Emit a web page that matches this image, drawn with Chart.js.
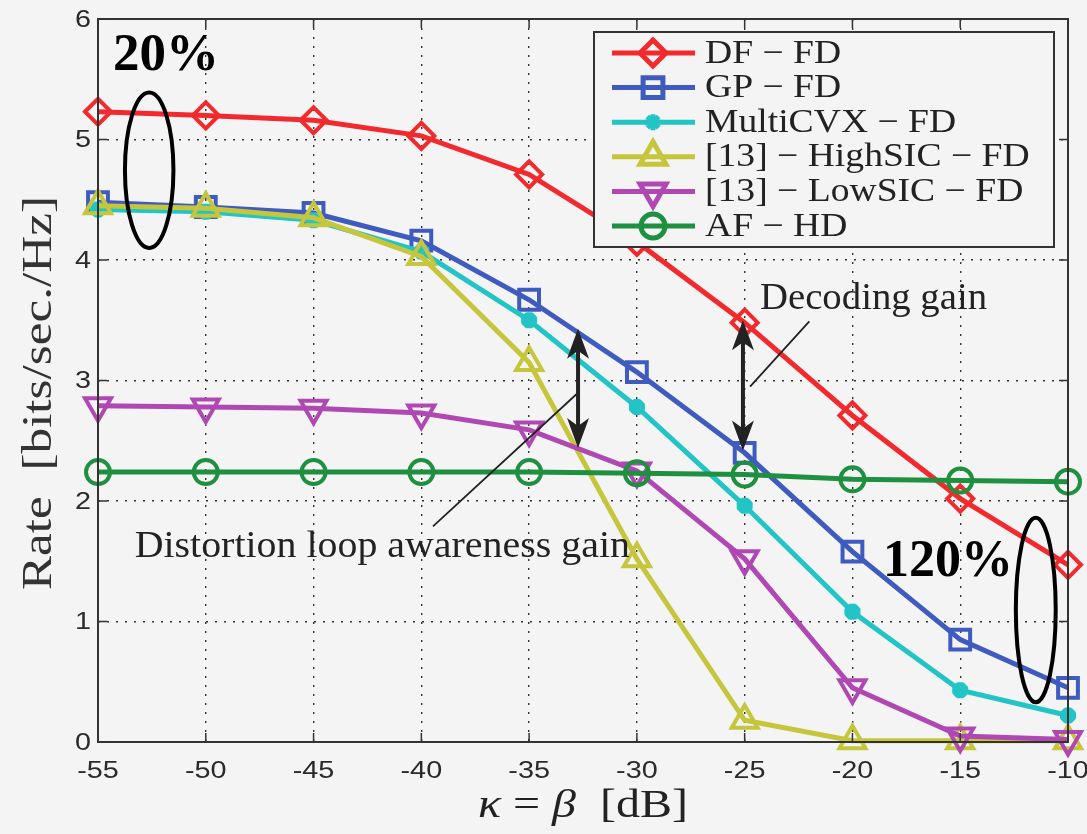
<!DOCTYPE html>
<html>
<head>
<meta charset="utf-8">
<title>Rate vs kappa</title>
<script src="https://cdn.jsdelivr.net/npm/chart.js/dist/chart.umd.min.js"></script>
<style>
  html, body { margin: 0; padding: 0; background: #f4f4f4; }
  #wrap { width: 1087px; height: 834px; }
</style>
</head>
<body>
<div id="wrap"><canvas id="myChart"></canvas></div>
<script>
// x axis: kappa = beta [dB]
const kappa = [-55, -50, -45, -40, -35, -30, -25, -20, -15, -10];

// rates [bits/sec./Hz]
const dfFd      = [5.23, 5.20, 5.16, 5.03, 4.71, 4.15, 3.48, 2.71, 2.02, 1.47];
const gpFd      = [4.48, 4.44, 4.39, 4.16, 3.67, 3.07, 2.40, 1.58, 0.85, 0.45];
const multiCvx  = [4.42, 4.40, 4.33, 4.07, 3.50, 2.78, 1.96, 1.08, 0.43, 0.22];
const highSic   = [4.45, 4.43, 4.35, 4.03, 3.15, 1.52, 0.18, 0.01, 0.01, 0.01];
const lowSic    = [2.79, 2.78, 2.77, 2.73, 2.59, 2.25, 1.52, 0.45, 0.05, 0.02];
const afHd      = [2.24, 2.24, 2.24, 2.24, 2.24, 2.23, 2.22, 2.18, 2.17, 2.16];

const seriesNames  = ['DF \u2212 FD', 'GP \u2212 FD', 'MultiCVX \u2212 FD',
                      '[13] \u2212 HighSIC \u2212 FD', '[13] \u2212 LowSIC \u2212 FD', 'AF \u2212 HD'];
const seriesColors = ['#f22a2e', '#3f5bbf', '#22c4c6', '#c5c63c', '#b048b4', '#1f8f40'];
const seriesMarks  = ['rectRot', 'rect', 'star', 'triangle', 'triangle', 'circle'];
const seriesRot    = [0, 0, 0, 0, 180, 0];
const seriesRadius = [13, 14, 8, 15, 15, 12];
const seriesData   = [dfFd, gpFd, multiCvx, highSic, lowSic, afHd];

const BG = '#f4f4f4';

function makeDataset(i) {
    return {
        label: seriesNames[i],
        data: kappa.map((k, j) => ({ x: k, y: seriesData[i][j] })),
        borderColor: seriesColors[i],
        backgroundColor: 'rgba(0,0,0,0)',
        pointBorderColor: seriesColors[i],
        pointBackgroundColor: seriesMarks[i] === 'star' ? seriesColors[i] : 'rgba(0,0,0,0)',
        pointStyle: seriesMarks[i],
        pointRotation: seriesRot[i],
        pointRadius: seriesRadius[i],
        pointBorderWidth: seriesMarks[i] === 'star' ? 6 : 4,
        borderWidth: 5,
        tension: 0,
        clip: false,
        order: seriesData.length - i   // later series on top, like matlab
    };
}

// text stretched horizontally to mimic the wide LaTeX fonts
function wideText(ctx, txt, x, y, sx, align) {
    ctx.save();
    ctx.translate(x, y);
    ctx.scale(sx, 1);
    ctx.textAlign = align;
    ctx.fillText(txt, 0, 0);
    ctx.restore();
}

// draw everything that is not data: box, ticks, titles, legend, notes
const extras = {
    id: 'extras',
    afterDraw(chart) {
        const ctx = chart.ctx;
        const a = chart.chartArea;
        const xs = chart.scales.x, ys = chart.scales.y;
        const px = v => xs.getPixelForValue(v);
        const py = v => ys.getPixelForValue(v);

        ctx.save();
        // axes box
        ctx.strokeStyle = '#333';
        ctx.lineWidth = 2;
        ctx.strokeRect(a.left, a.top, a.right - a.left, a.bottom - a.top);
        // inner tick marks + tick labels
        ctx.lineWidth = 1.5;
        ctx.fillStyle = '#2a2a2a';
        ctx.font = '24px "Liberation Sans"';
        ctx.textBaseline = 'middle';
        xs.ticks.forEach(t => {
            const x = px(t.value);
            ctx.beginPath();
            ctx.moveTo(x, a.bottom); ctx.lineTo(x, a.bottom - 9);
            ctx.moveTo(x, a.top); ctx.lineTo(x, a.top + 9);
            ctx.stroke();
            wideText(ctx, String(t.value), x, a.bottom + 29, 1.2, 'center');
        });
        ys.ticks.forEach(t => {
            const y = py(t.value);
            ctx.beginPath();
            ctx.moveTo(a.left, y); ctx.lineTo(a.left + 9, y);
            ctx.moveTo(a.right, y); ctx.lineTo(a.right - 9, y);
            ctx.stroke();
            wideText(ctx, String(t.value), a.left - 7, y + 1, 1.2, 'right');
        });

        // y axis title
        ctx.fillStyle = '#333';
        ctx.font = '42px "Liberation Serif"';
        ctx.save();
        ctx.translate(40, 393);
        ctx.rotate(-Math.PI / 2);
        wideText(ctx, 'Rate  [bits/sec./Hz]', 0, 0, 1.22, 'center');
        ctx.restore();

        // x axis title with italic greek letters
        ctx.fillStyle = '#222';
        const sx = 1.2;
        const parts = [['italic 40px "Liberation Serif"', '\u03ba'], ['40px "Liberation Serif"', ' = '],
                       ['italic 40px "Liberation Serif"', '\u03b2'], ['40px "Liberation Serif"', '  [dB]']];
        let total = 0;
        parts.forEach(p => { ctx.font = p[0]; total += ctx.measureText(p[1]).width * sx; });
        let cx = 583 - total / 2;
        parts.forEach(p => {
            ctx.font = p[0];
            wideText(ctx, p[1], cx, 806, sx, 'left');
            cx += ctx.measureText(p[1]).width * sx;
        });

        // double arrows
        function arrowHead(x, yTip, dir) {
            ctx.beginPath();
            ctx.moveTo(x, yTip);
            ctx.lineTo(x - 11, yTip + dir * 30);
            ctx.lineTo(x, yTip + dir * 22);
            ctx.lineTo(x + 11, yTip + dir * 30);
            ctx.closePath();
            ctx.fill();
        }
        function dblArrow(xv, y1, y2) {
            const x = px(xv), t = py(y1), b = py(y2);
            ctx.strokeStyle = '#222';
            ctx.fillStyle = '#222';
            ctx.lineWidth = 4;
            ctx.beginPath();
            ctx.moveTo(x, t + 20); ctx.lineTo(x, b - 20);
            ctx.stroke();
            arrowHead(x, t, 1);
            arrowHead(x, b, -1);
        }
        dblArrow(-32.73, 3.43, 2.44);
        dblArrow(-25.08, 3.50, 2.42);

        // leader lines
        ctx.lineWidth = 1.8;
        ctx.strokeStyle = '#222';
        ctx.beginPath();
        ctx.moveTo(px(-24.75), py(2.95)); ctx.lineTo(px(-22.0), py(3.49));
        ctx.moveTo(px(-39.46), py(1.79)); ctx.lineTo(px(-32.78), py(2.89));
        ctx.stroke();

        ctx.fillStyle = '#222';
        ctx.font = '38px "Liberation Serif"';
        wideText(ctx, 'Decoding gain', px(-24.29), py(3.68), 1.02, 'left');
        wideText(ctx, 'Distortion loop awareness gain', px(-53.3), py(1.62), 1.05, 'left');

        ctx.fillStyle = '#000';
        ctx.font = 'bold 53px "Liberation Serif"';
        ctx.textAlign = 'left';
        ctx.fillText('20%', px(-54.3), py(5.69));
        ctx.font = 'bold 52px "Liberation Serif"';
        ctx.fillText('120%', px(-18.58), py(1.49));

        // ellipses
        ctx.strokeStyle = '#000';
        ctx.lineWidth = 4;
        function ell(x1, x2, y1, y2) {
            const l = px(x1), r = px(x2), t = py(y2), b = py(y1);
            ctx.beginPath();
            ctx.ellipse((l + r) / 2, (t + b) / 2, (r - l) / 2, (b - t) / 2, 0, 0, Math.PI * 2);
            ctx.stroke();
        }
        ell(-53.75, -51.5, 4.1, 5.39);
        ell(-12.42, -10.57, 0.33, 1.86);

        // legend
        const lx = a.left + 496, ly = a.top + 13, lw = a.right - 14 - lx, lh = 215;
        ctx.fillStyle = BG;
        ctx.fillRect(lx, ly, lw, lh);
        ctx.strokeStyle = '#333';
        ctx.lineWidth = 2;
        ctx.strokeRect(lx, ly, lw, lh);
        chart.data.datasets.forEach((ds, i) => {
            const y = ly + 21 + i * 34.6;
            ctx.strokeStyle = ds.borderColor;
            ctx.lineWidth = 5;
            ctx.beginPath();
            ctx.moveTo(lx + 18, y); ctx.lineTo(lx + 101, y);
            ctx.stroke();
            ctx.fillStyle = ds.pointBackgroundColor;
            ctx.strokeStyle = ds.borderColor;
            Chart.helpers.drawPoint(ctx, {
                pointStyle: ds.pointStyle,
                rotation: ds.pointRotation,
                radius: ds.pointRadius,
                borderWidth: ds.pointBorderWidth
            }, lx + 59, y);
            ctx.fillStyle = '#222';
            ctx.font = '33px "Liberation Serif"';
            ctx.textBaseline = 'middle';
            wideText(ctx, ds.label, lx + 111, y + 1, 1.14, 'left');
        });
        ctx.restore();
    }
};

const ctx = document.getElementById('myChart').getContext('2d');
const myChart = new Chart(ctx, {
    type: 'line',
    data: {
        datasets: seriesData.map((d, i) => makeDataset(i))
    },
    options: {
        responsive: true,
        maintainAspectRatio: false,
        animation: false,
        layout: { padding: { top: 17, right: 19, left: 0, bottom: 0 } },
        plugins: {
            legend: { display: false },
            tooltip: { enabled: false }
        },
        scales: {
            x: {
                type: 'linear',
                min: -55,
                max: -10,
                afterFit: s => { s.height = 92; },
                ticks: { stepSize: 5, display: false },
                grid: { color: '#333', lineWidth: 1.4, drawTicks: false },
                border: { display: false, dash: [2, 7] }
            },
            y: {
                min: 0,
                max: 6,
                afterFit: s => { s.width = 98; },
                ticks: { stepSize: 1, display: false },
                grid: { color: '#333', lineWidth: 1.4, drawTicks: false },
                border: { display: false, dash: [2, 7] }
            }
        }
    },
    plugins: [extras]
});
</script>
</body>
</html>
